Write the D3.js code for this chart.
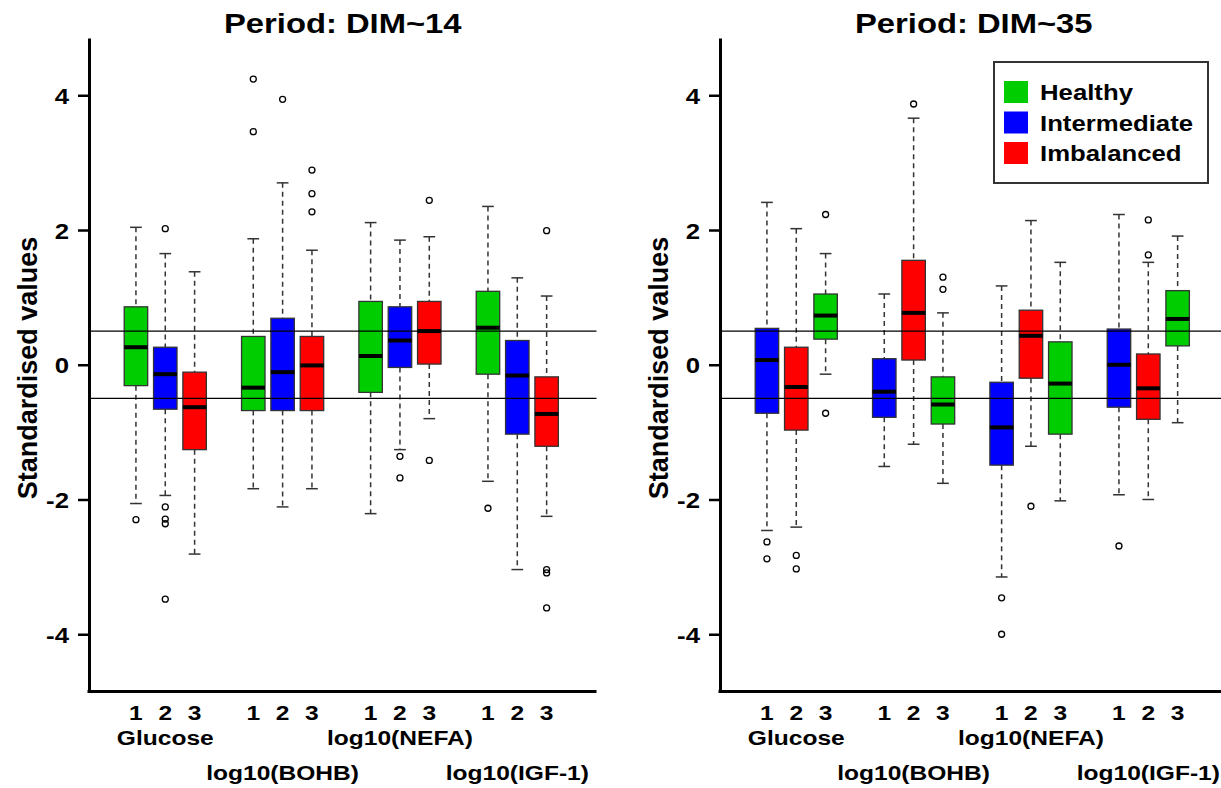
<!DOCTYPE html>
<html>
<head>
<meta charset="UTF-8">
<title>Standardised values by period</title>
<script src="https://d3js.org/d3.v7.min.js"></script>
<style>
    *{
        padding:0;
        margin:0;
    }
    body{ background:#fff; }
    svg text{
        font-family:"Liberation Sans", Arial, sans-serif;
        font-weight:bold;
        fill:#000;
    }
    .whisker{ stroke:#333; stroke-width:1.5; stroke-dasharray:5,4; }
    .cap{ stroke:#333; stroke-width:1.5; }
    .box{ stroke:#333; stroke-width:1.3; }
    .median{ stroke:#000; stroke-width:4; }
    .outlier{ fill:none; stroke:#000; stroke-width:1.3; }
    .ref{ stroke:#000; stroke-width:1.3; }
    .frame{ stroke:#000; stroke-width:3; fill:none; }
</style>
</head>
<body>
<svg id="main" width="1221" height="788"></svg>
<script>
// chart data
const variables = ["Glucose", "log10(BOHB)", "log10(NEFA)", "log10(IGF-1)"];
const boxLabels = ["1", "2", "3"];
const classes = ["Healthy", "Intermediate", "Imbalanced"];
const classColors = ["#00cd00", "#0000ff", "#ff0000"];
const yTicks = [-4, -2, 0, 2, 4];
const refLines = [-0.5, 0.5];
const titles = ["Period: DIM~14", "Period: DIM~35"];

// box order inside each variable
const dim14Order = ["Healthy", "Intermediate", "Imbalanced"];
const dim35Order = ["Intermediate", "Imbalanced", "Healthy"];

// [lower whisker, Q1, median, Q3, upper whisker], 3 boxes per variable
const dim14Stats = [
    [-2.06, -0.31, 0.26, 0.86, 2.04], [-1.94, -0.66, -0.14, 0.26, 1.65], [-2.81, -1.26, -0.63, -0.11, 1.38],
    [-1.84, -0.68, -0.34, 0.42, 1.87], [-2.11, -0.68, -0.11, 0.69, 2.70], [-1.84, -0.68, -0.01, 0.42, 1.70],
    [-2.21, -0.41, 0.13, 0.94, 2.11], [-1.26, -0.04, 0.36, 0.86, 1.85], [-0.80, 0.01, 0.50, 0.94, 1.90],
    [-1.73, -0.14, 0.55, 1.09, 2.35], [-3.04, -1.03, -0.16, 0.36, 1.29], [-2.25, -1.21, -0.73, -0.18, 1.02]
];
const dim14Outliers = [
    [-2.30], [2.02, -2.11, -2.29, -2.36, -3.48], [],
    [4.24, 3.46], [3.94], [2.89, 2.54, 2.27],
    [], [-1.36, -1.68], [2.44, -1.42],
    [-2.13], [], [1.99, -3.04, -3.09, -3.61]
];

const dim35Stats = [
    [-2.46, -0.72, 0.07, 0.54, 2.41], [-2.41, -0.97, -0.33, 0.26, 2.02], [-0.14, 0.38, 0.73, 1.05, 1.65],
    [-1.51, -0.78, -0.40, 0.09, 1.05], [-1.18, 0.07, 0.77, 1.55, 3.66], [-1.76, -0.88, -0.59, -0.18, 0.77],
    [-3.15, -1.49, -0.93, -0.26, 1.17], [-1.21, -0.20, 0.43, 0.81, 2.14], [-2.02, -1.03, -0.28, 0.34, 1.52],
    [-1.93, -0.63, 0.00, 0.53, 2.23], [-2.00, -0.81, -0.35, 0.16, 1.52], [-0.86, 0.28, 0.68, 1.10, 1.91]
];
const dim35Outliers = [
    [-2.63, -2.88], [-2.83, -3.03], [2.23, -0.72],
    [], [3.87], [1.30, 1.12],
    [-3.46, -4.00], [-2.10], [],
    [-2.69], [2.15, 1.63], []
];

const svg = d3.select("#main");
const stretch = 1.17; // glyphs in the reference are a bit wider than Liberation Sans

const color = d3.scaleOrdinal().domain(classes).range(classColors);
const y = d3.scaleLinear().domain([-4.85, 4.85]).range([691.5, 38]);

// horizontal text, widened a bit
function label(g, str, x, yy, size, anchor) {
    return g.append("text")
        .attr("transform", `translate(${x},${yy}) scale(${stretch},1)`)
        .attr("text-anchor", anchor || "middle")
        .style("font-size", size + "px")
        .text(str);
}

const panels = [
    { title: titles[0], order: dim14Order, stats: dim14Stats, outliers: dim14Outliers, left: 89 },
    { title: titles[1], order: dim35Order, stats: dim35Stats, outliers: dim35Outliers, left: 720 }
];

panels.forEach((p, pi) => {
    const x = d3.scaleLinear().domain([-0.6, 16.7]).range([p.left, p.left + 507.5]);
    const unit = x(1) - x(0);
    const bw = 0.8 * unit;
    const g = svg.append("g");

    // one record per box
    const boxes = p.stats.map((s, i) => {
        const gi = Math.floor(i / 3), bi = i % 3;
        return {
            pos: gi * 4 + bi + 1,
            cls: p.order[bi],
            lo: s[0], q1: s[1], med: s[2], q3: s[3], hi: s[4],
            out: p.outliers[i]
        };
    });

    const b = g.selectAll("g.bx").data(boxes).enter().append("g").attr("class", "bx");

    b.append("line").attr("class", "whisker")
        .attr("x1", d => x(d.pos)).attr("x2", d => x(d.pos))
        .attr("y1", d => y(d.hi)).attr("y2", d => y(d.q3));
    b.append("line").attr("class", "whisker")
        .attr("x1", d => x(d.pos)).attr("x2", d => x(d.pos))
        .attr("y1", d => y(d.q1)).attr("y2", d => y(d.lo));
    b.append("line").attr("class", "cap")
        .attr("x1", d => x(d.pos) - bw / 4).attr("x2", d => x(d.pos) + bw / 4)
        .attr("y1", d => y(d.hi)).attr("y2", d => y(d.hi));
    b.append("line").attr("class", "cap")
        .attr("x1", d => x(d.pos) - bw / 4).attr("x2", d => x(d.pos) + bw / 4)
        .attr("y1", d => y(d.lo)).attr("y2", d => y(d.lo));
    b.append("rect").attr("class", "box")
        .attr("x", d => x(d.pos) - bw / 2).attr("width", bw)
        .attr("y", d => y(d.q3)).attr("height", d => y(d.q1) - y(d.q3))
        .attr("fill", d => color(d.cls));
    b.append("line").attr("class", "median")
        .attr("x1", d => x(d.pos) - bw / 2).attr("x2", d => x(d.pos) + bw / 2)
        .attr("y1", d => y(d.med)).attr("y2", d => y(d.med));
    b.selectAll("circle").data(d => d.out.map(v => ({ pos: d.pos, v: v })))
        .enter().append("circle").attr("class", "outlier")
        .attr("cx", d => x(d.pos)).attr("cy", d => y(d.v)).attr("r", 3);

    // reference lines at +-0.5
    g.selectAll("line.ref").data(refLines).enter().append("line")
        .attr("class", "ref")
        .attr("x1", x.range()[0]).attr("x2", x.range()[1])
        .attr("y1", d => y(d)).attr("y2", d => y(d));

    // y axis
    const ya = g.append("g").attr("transform", `translate(${p.left},0)`)
        .call(d3.axisLeft(y).tickValues(yTicks).tickSize(11).tickSizeOuter(0)
            .tickFormat(d => String(d)));
    ya.select(".domain").attr("stroke-width", 3);
    ya.selectAll(".tick line").attr("stroke-width", 2.5);
    ya.selectAll(".tick text")
        .attr("x", null).attr("dy", null)
        .attr("transform", `translate(-20,8) scale(${stretch},1)`)
        .style("font-size", "22px").style("font-family", null);

    // x axis line
    g.append("line").attr("class", "frame")
        .attr("x1", p.left - 1.5).attr("x2", x.range()[1])
        .attr("y1", y.range()[0]).attr("y2", y.range()[0]);

    // box numbers and variable names
    boxes.forEach((d, i) => label(g, boxLabels[i % 3], x(d.pos), 720, 21));
    variables.forEach((v, gi) => {
        label(g, v, x(gi * 4 + 2), gi % 2 === 0 ? 745 : 780, 21);
    });

    // title and y label
    label(g, p.title, (x.range()[0] + x.range()[1]) / 2, 33, 28);
    g.append("text")
        .attr("transform", `translate(${p.left - 52},368) rotate(-90)`)
        .attr("text-anchor", "middle")
        .style("font-size", "27px")
        .text("Standardised values");

    // legend on the second panel
    if (pi === 1) {
        const lg = g.append("g");
        lg.append("rect").attr("x", 994).attr("y", 62).attr("width", 214).attr("height", 121)
            .attr("fill", "#fff").attr("stroke", "#333").attr("stroke-width", 2);
        classes.forEach((c, ci) => {
            const cy = 92 + ci * 30.5;
            lg.append("rect").attr("x", 1004).attr("y", cy - 11).attr("width", 24).attr("height", 22)
                .attr("fill", color(c));
            label(lg, c, 1040, cy + 8, 22, "start");
        });
    }
});
</script>
</body>
</html>
